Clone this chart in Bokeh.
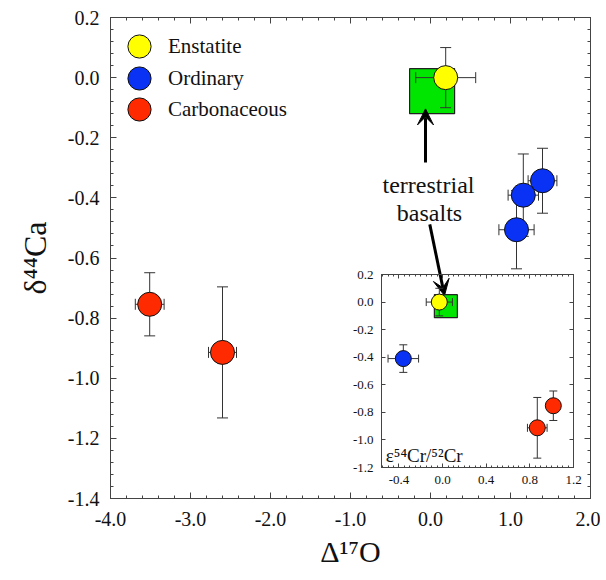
import numpy as np
from bokeh.plotting import figure
from bokeh.models import (Range1d, LinearAxis, FixedTicker, NumeralTickFormatter,
                          Legend, LegendItem, Arrow, VeeHead, Label)
from bokeh.embed import file_html
from bokeh.resources import INLINE

FONT = "Liberation Serif"

# ---------------- main panel data: Delta17O vs delta44Ca ----------------
en_d17o = [0.19]
en_d17o_err = [0.375]
en_d44ca = [0.00]
en_d44ca_err = [0.10]

oc_d17o = [1.40, 1.16, 1.075]
oc_d17o_err = [0.18, 0.19, 0.22]
oc_d44ca = [-0.343, -0.391, -0.506]
oc_d44ca_err = [0.108, 0.137, 0.13]

cc_d17o = [-3.51, -2.60]
cc_d17o_err = [0.18, 0.175]
cc_d44ca = [-0.754, -0.914]
cc_d44ca_err = [0.105, 0.218]

basalt_d17o = [0.02]
basalt_d44ca = [-0.045]

# ---------------- inset data: e54Cr/52Cr vs delta44Ca ----------------
en_e54cr = [-0.03]
en_e54cr_err = [0.12]
en_in_d44ca = [0.00]
en_in_d44ca_err = [0.10]

oc_e54cr = [-0.36]
oc_e54cr_err = [0.14]
oc_in_d44ca = [-0.41]
oc_in_d44ca_err = [0.10]

cc_e54cr = [1.015, 0.868]
cc_e54cr_err = [0.05, 0.09]
cc_in_d44ca = [-0.752, -0.912]
cc_in_d44ca_err = [0.107, 0.22]

basalt_e54cr = [0.03]
basalt_in_d44ca = [-0.03]

# ---------------- ticks and labels ----------------
main_x_ticks = [-4.0, -3.0, -2.0, -1.0, 0.0, 1.0, 2.0]
main_y_ticks = [-1.4, -1.2, -1.0, -0.8, -0.6, -0.4, -0.2, 0.0, 0.2]
inset_x_ticks = [-0.4, 0.0, 0.4, 0.8, 1.2]
inset_y_ticks = [-1.2, -1.0, -0.8, -0.6, -0.4, -0.2, 0.0, 0.2]

legend_labels = ["Enstatite", "Ordinary", "Carbonaceous"]
annotation_lines = ["terrestrial", "basalts"]

YELLOW = "#ffff00"
BLUE = "#0a32f5"
RED = "#ff2a00"
GREEN = "#00e600"
AX = "#444444"
ERR = "#333333"


def minor_between(ticks, n, lo, hi):
    step = (ticks[1] - ticks[0]) / n
    k0 = int(np.floor((lo - ticks[0]) / step)) - 1
    k1 = int(np.ceil((hi - ticks[0]) / step)) + 1
    vals = [round(ticks[0] + k * step, 6) for k in range(k0, k1 + 1)]
    return [v for v in vals if lo - 1e-9 <= v <= hi + 1e-9]


def style_axis(ax, major_in=6, minor_in=3, labels=True, size="20px", standoff=11):
    ax.axis_line_color = AX
    ax.major_tick_line_color = AX
    ax.minor_tick_line_color = AX
    ax.major_tick_in = major_in
    ax.major_tick_out = 0
    ax.minor_tick_in = minor_in
    ax.minor_tick_out = 0
    ax.major_label_text_font = FONT
    if labels:
        ax.major_label_text_color = "#111111"
        ax.major_label_text_font_size = size
        ax.major_label_standoff = standoff
    else:
        ax.major_label_text_color = None
        ax.major_label_text_font_size = "1px"
        ax.major_label_standoff = 0


def error_bars(fig, x, y, xe, ye, cap):
    x = np.asarray(x, float); y = np.asarray(y, float)
    xe = np.asarray(xe, float); ye = np.asarray(ye, float)
    fig.segment(x0=x - xe, y0=y, x1=x + xe, y1=y, line_color=ERR, line_width=1)
    fig.segment(x0=x, y0=y - ye, x1=x, y1=y + ye, line_color=ERR, line_width=1)
    fig.scatter(x=np.concatenate([x, x]), y=np.concatenate([y - ye, y + ye]),
                marker="dash", size=cap, line_color=ERR, line_width=1)
    fig.scatter(x=np.concatenate([x - xe, x + xe]), y=np.concatenate([y, y]),
                marker="dash", angle=np.pi / 2, size=cap, line_color=ERR, line_width=1)


# ---------------- main figure ----------------
XR = (-4.0, 2.0)
YR = (-1.4, 0.2)
p = figure(width=600, height=578, x_range=Range1d(*XR), y_range=Range1d(*YR),
           output_backend="svg", toolbar_location=None,
           min_border_left=110, min_border_right=10, min_border_top=17, min_border_bottom=80,
           x_axis_label="Δ¹⁷O", y_axis_label="δ⁴⁴Ca")
p.grid.visible = False
p.outline_line_color = AX
p.background_fill_color = "white"
p.border_fill_color = "white"


def main_xticker():
    return FixedTicker(ticks=main_x_ticks, minor_ticks=minor_between(main_x_ticks, 5, *XR))


def main_yticker():
    return FixedTicker(ticks=main_y_ticks, minor_ticks=minor_between(main_y_ticks, 5, *YR))


p.xaxis.ticker = main_xticker()
p.yaxis.ticker = main_yticker()
p.xaxis.formatter = NumeralTickFormatter(format="0.0")
p.yaxis.formatter = NumeralTickFormatter(format="0.0")
for ax in p.xaxis + p.yaxis:
    style_axis(ax)
    ax.axis_label_text_font = FONT
    ax.axis_label_text_font_style = "normal"
    ax.axis_label_text_color = "#111111"
p.xaxis.axis_label_text_font_size = "30px"
p.yaxis.axis_label_text_font_size = "32px"
p.xaxis.major_label_standoff = 13
p.xaxis.axis_label_standoff = 6
p.yaxis.axis_label_standoff = 12

top = LinearAxis(ticker=main_xticker())
style_axis(top, labels=False)
p.add_layout(top, "above")
right = LinearAxis(ticker=main_yticker())
style_axis(right, labels=False)
p.add_layout(right, "right")

# terrestrial basalts square
p.scatter(x=basalt_d17o, y=basalt_d44ca, marker="square", size=45,
          fill_color=GREEN, line_color="#222222", line_width=1.2)

error_bars(p, en_d17o, en_d44ca, en_d17o_err, en_d44ca_err, 11)
error_bars(p, oc_d17o, oc_d44ca, oc_d17o_err, oc_d44ca_err, 11)
error_bars(p, cc_d17o, cc_d44ca, cc_d17o_err, cc_d44ca_err, 11)

r_en = p.scatter(x=en_d17o, y=en_d44ca, marker="circle", size=24,
                 fill_color=YELLOW, line_color="#111111", line_width=1)
r_oc = p.scatter(x=oc_d17o, y=oc_d44ca, marker="circle", size=24,
                 fill_color=BLUE, line_color="#111111", line_width=1)
r_cc = p.scatter(x=cc_d17o, y=cc_d44ca, marker="circle", size=24,
                 fill_color=RED, line_color="#111111", line_width=1)

# one legend per entry so that the large legend markers can sit close together
legend_offsets = [423, 391, 360]   # screen px from frame bottom to each legend box
for lab, rend, off in zip(legend_labels, [r_en, r_oc, r_cc], legend_offsets):
    lg = Legend(items=[LegendItem(label=lab, renderers=[rend])],
                location=(0, off), margin=0, padding=0, spacing=0,
                glyph_width=58, glyph_height=58, label_standoff=0,
                label_text_font=FONT, label_text_font_size="21px",
                label_text_color="#111111",
                background_fill_alpha=0, border_line_alpha=0)
    p.add_layout(lg)

# annotation text and arrows
p.add_layout(Label(x=-0.025, y=-0.357, text=annotation_lines[0], text_align="center",
                   text_baseline="alphabetic", text_font=FONT, text_font_size="24px",
                   text_color="#111111"))
p.add_layout(Label(x=-0.0125, y=-0.449, text=annotation_lines[1], text_align="center",
                   text_baseline="alphabetic", text_font=FONT, text_font_size="24px",
                   text_color="#111111"))
p.add_layout(Arrow(end=VeeHead(size=16, fill_color="black", line_color="black"),
                   x_start=-0.0625, y_start=-0.282, x_end=-0.0625, y_end=-0.104,
                   line_color="black", line_width=3))
p.add_layout(Arrow(end=VeeHead(size=16, fill_color="black", line_color="black"),
                   x_start=-0.009, y_start=-0.488, x_end=0.175, y_end=-0.725,
                   line_color="black", line_width=3))

# ---------------- inset figure (floated over the main panel) ----------------
IXR = (-0.56, 1.2)
IYR = (-1.2, 0.2)
ins = figure(width=248, height=229, x_range=Range1d(*IXR), y_range=Range1d(*IYR),
             output_backend="svg", toolbar_location=None,
             min_border_left=40, min_border_right=16, min_border_top=10, min_border_bottom=26,
             styles={"position": "absolute", "left": "341px", "top": "264px"})
ins.grid.visible = False
ins.outline_line_color = AX
ins.background_fill_alpha = 0
ins.border_fill_alpha = 0


def ins_xticker():
    return FixedTicker(ticks=inset_x_ticks, minor_ticks=minor_between(inset_x_ticks, 8, *IXR))


def ins_yticker():
    return FixedTicker(ticks=inset_y_ticks, minor_ticks=[])


ins.xaxis.ticker = ins_xticker()
ins.yaxis.ticker = ins_yticker()
ins.xaxis.formatter = NumeralTickFormatter(format="0.0")
ins.yaxis.formatter = NumeralTickFormatter(format="0.0")
for ax in ins.xaxis + ins.yaxis:
    style_axis(ax, major_in=4, minor_in=2, size="13px", standoff=8)
itop = LinearAxis(ticker=ins_xticker())
style_axis(itop, major_in=4, minor_in=2, labels=False)
ins.add_layout(itop, "above")
iright = LinearAxis(ticker=ins_yticker())
style_axis(iright, major_in=4, minor_in=2, labels=False)
ins.add_layout(iright, "right")

ins.scatter(x=basalt_e54cr, y=basalt_in_d44ca, marker="square", size=23,
            fill_color=GREEN, line_color="#222222", line_width=1.2)
error_bars(ins, en_e54cr, en_in_d44ca, en_e54cr_err, en_in_d44ca_err, 8)
error_bars(ins, oc_e54cr, oc_in_d44ca, oc_e54cr_err, oc_in_d44ca_err, 8)
error_bars(ins, cc_e54cr, cc_in_d44ca, cc_e54cr_err, cc_in_d44ca_err, 8)
ins.scatter(x=en_e54cr, y=en_in_d44ca, marker="circle", size=16,
            fill_color=YELLOW, line_color="#111111", line_width=1)
ins.scatter(x=oc_e54cr, y=oc_in_d44ca, marker="circle", size=16,
            fill_color=BLUE, line_color="#111111", line_width=1)
ins.scatter(x=cc_e54cr, y=cc_in_d44ca, marker="circle", size=16,
            fill_color=RED, line_color="#111111", line_width=1)
ins.add_layout(Label(x=-0.52, y=-1.19, text="ε⁵⁴Cr/⁵²Cr", text_align="left",
                     text_baseline="bottom", text_font=FONT, text_font_size="19px",
                     text_color="#111111"))

open("out.html", "w").write(file_html([p, ins], INLINE))
